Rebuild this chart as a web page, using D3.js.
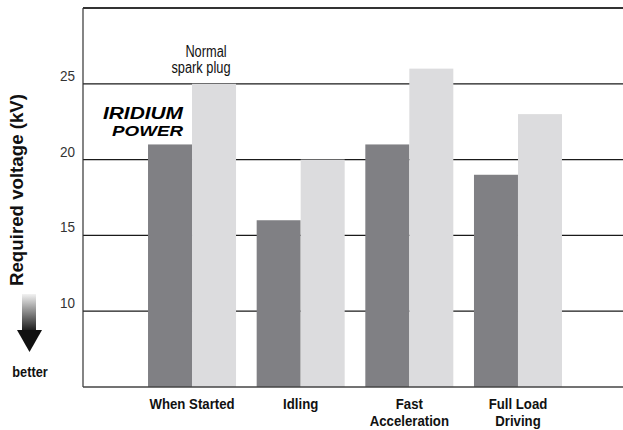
<!DOCTYPE html>
<html>
<head>
<meta charset="utf-8">
<script src="https://cdn.jsdelivr.net/npm/d3@7"></script>
<style>
  body { margin: 0; background: #fff; }
  svg { display: block; }
  text { font-family: "Liberation Sans", Arial, sans-serif; }
</style>
</head>
<body>
<div id="chart"></div>
<script>
// chart data
var categories = [['When Started'], ['Idling'], ['Fast', 'Acceleration'], ['Full Load', 'Driving']];
var iridium = [21, 16, 21, 19];
var normal = [25, 20, 26, 23];
var yTicks = [10, 15, 20, 25];

var width = 623, height = 430;
var plotLeft = 83, plotTop = 8, plotBottom = 387, plotRight = 623;

var svg = d3.select('#chart').append('svg')
    .attr('width', width)
    .attr('height', height);

var y = d3.scaleLinear().domain([5, 30]).range([plotBottom, plotTop]);

// groups
var x = d3.scaleBand()
    .domain(d3.range(categories.length))
    .range([137.7, 572.3])
    .paddingInner(0.19)
    .paddingOuter(0.095);

var x1 = d3.scaleBand()
    .domain(['iridium', 'normal'])
    .range([0, x.bandwidth()]);

// squeeze text horizontally (no condensed font installed)
function condense(sel, f) {
    sel.each(function() {
        var w = this.getComputedTextLength();
        d3.select(this).attr('textLength', w * f).attr('lengthAdjust', 'spacingAndGlyphs');
    });
}

// gridlines
svg.append('g').selectAll('line')
    .data(yTicks)
    .enter()
    .append('line')
    .attr('x1', plotLeft).attr('x2', plotRight)
    .attr('y1', function(d) { return y(d); })
    .attr('y2', function(d) { return y(d); })
    .attr('stroke', '#1a1a1a')
    .attr('stroke-width', 1.3);

// bars
var group = svg.append('g').selectAll('g')
    .data(categories.map(function(c, i) { return { i: i, iridium: iridium[i], normal: normal[i] }; }))
    .enter()
    .append('g')
    .attr('transform', function(d) { return 'translate(' + x(d.i) + ',0)'; });

group.append('rect')
    .attr('x', x1('iridium'))
    .attr('width', x1.bandwidth())
    .attr('y', function(d) { return y(d.iridium); })
    .attr('height', function(d) { return plotBottom - y(d.iridium); })
    .attr('fill', '#808084');

group.append('rect')
    .attr('x', x1('normal'))
    .attr('width', x1.bandwidth())
    .attr('y', function(d) { return y(d.normal); })
    .attr('height', function(d) { return plotBottom - y(d.normal); })
    .attr('fill', '#dcdcde');

// frame: left axis, top line, bottom axis
svg.append('line').attr('x1', plotLeft).attr('x2', plotLeft).attr('y1', plotTop).attr('y2', plotBottom)
    .attr('stroke', '#333').attr('stroke-width', 1.2);
svg.append('line').attr('x1', plotLeft).attr('x2', plotRight).attr('y1', plotTop).attr('y2', plotTop)
    .attr('stroke', '#333').attr('stroke-width', 2);
svg.append('line').attr('x1', plotLeft).attr('x2', plotRight).attr('y1', plotBottom).attr('y2', plotBottom)
    .attr('stroke', '#444').attr('stroke-width', 1.5);

// y tick labels
svg.append('g').selectAll('text')
    .data(yTicks)
    .enter()
    .append('text')
    .attr('x', 75)
    .attr('y', function(d) { return y(d) - 3; })
    .attr('text-anchor', 'end')
    .attr('font-size', 15)
    .attr('fill', '#333')
    .text(function(d) { return d; })
    .call(condense, 0.9);

// category labels, one text per line
var cat = svg.append('g').selectAll('g')
    .data(categories)
    .enter()
    .append('g')
    .attr('transform', function(d, i) { return 'translate(' + (x(i) + x.bandwidth() / 2) + ',409)'; });

cat.selectAll('text')
    .data(function(d) { return d.map(function(s, j) { return { s: s, j: j }; }); })
    .enter()
    .append('text')
    .attr('x', 0)
    .attr('y', function(d) { return d.j * 17; })
    .attr('text-anchor', 'middle')
    .attr('font-size', 15)
    .attr('font-weight', 'bold')
    .attr('fill', '#111')
    .text(function(d) { return d.s; })
    .call(condense, 0.88);

// y axis title
svg.append('text')
    .attr('transform', 'translate(23,190) rotate(-90)')
    .attr('text-anchor', 'middle')
    .attr('font-size', 19)
    .attr('font-weight', 'bold')
    .attr('fill', '#111')
    .attr('textLength', 192)
    .attr('lengthAdjust', 'spacingAndGlyphs')
    .text('Required voltage (kV)');

// "better" arrow
var defs = svg.append('defs');
var grad = defs.append('linearGradient')
    .attr('id', 'arrowGrad')
    .attr('x1', 0).attr('y1', 0).attr('x2', 0).attr('y2', 1);
grad.append('stop').attr('offset', '0%').attr('stop-color', '#f2f2f2');
grad.append('stop').attr('offset', '100%').attr('stop-color', '#1a1a1a');

svg.append('rect')
    .attr('x', 22).attr('y', 294)
    .attr('width', 14).attr('height', 37)
    .attr('fill', 'url(#arrowGrad)');
svg.append('path')
    .attr('d', 'M17,330 L42,330 L29.5,352 Z')
    .attr('fill', '#111');

svg.append('text')
    .attr('x', 30).attr('y', 377)
    .attr('text-anchor', 'middle')
    .attr('font-size', 15)
    .attr('font-weight', 'bold')
    .attr('fill', '#111')
    .text('better')
    .call(condense, 0.85);

// annotation for normal plug
svg.append('text')
    .attr('x', 206).attr('y', 57)
    .attr('text-anchor', 'middle')
    .attr('font-size', 16)
    .attr('fill', '#111')
    .text('Normal')
    .call(condense, 0.8);
svg.append('text')
    .attr('x', 201).attr('y', 73)
    .attr('text-anchor', 'middle')
    .attr('font-size', 16)
    .attr('fill', '#111')
    .text('spark plug')
    .call(condense, 0.8);

// Iridium Power logo
svg.append('text')
    .attr('x', 183).attr('y', 119)
    .attr('text-anchor', 'end')
    .attr('font-family', '"DejaVu Sans", sans-serif')
    .attr('font-style', 'italic')
    .attr('font-weight', 'bold')
    .attr('font-size', 16)
    .attr('fill', '#000')
    .attr('textLength', 80)
    .attr('lengthAdjust', 'spacingAndGlyphs')
    .text('IRIDIUM');
svg.append('text')
    .attr('x', 183).attr('y', 136)
    .attr('text-anchor', 'end')
    .attr('font-family', '"DejaVu Sans", sans-serif')
    .attr('font-style', 'italic')
    .attr('font-weight', 'bold')
    .attr('font-size', 15)
    .attr('fill', '#000')
    .attr('textLength', 71)
    .attr('lengthAdjust', 'spacingAndGlyphs')
    .text('POWER');
</script>
</body>
</html>
